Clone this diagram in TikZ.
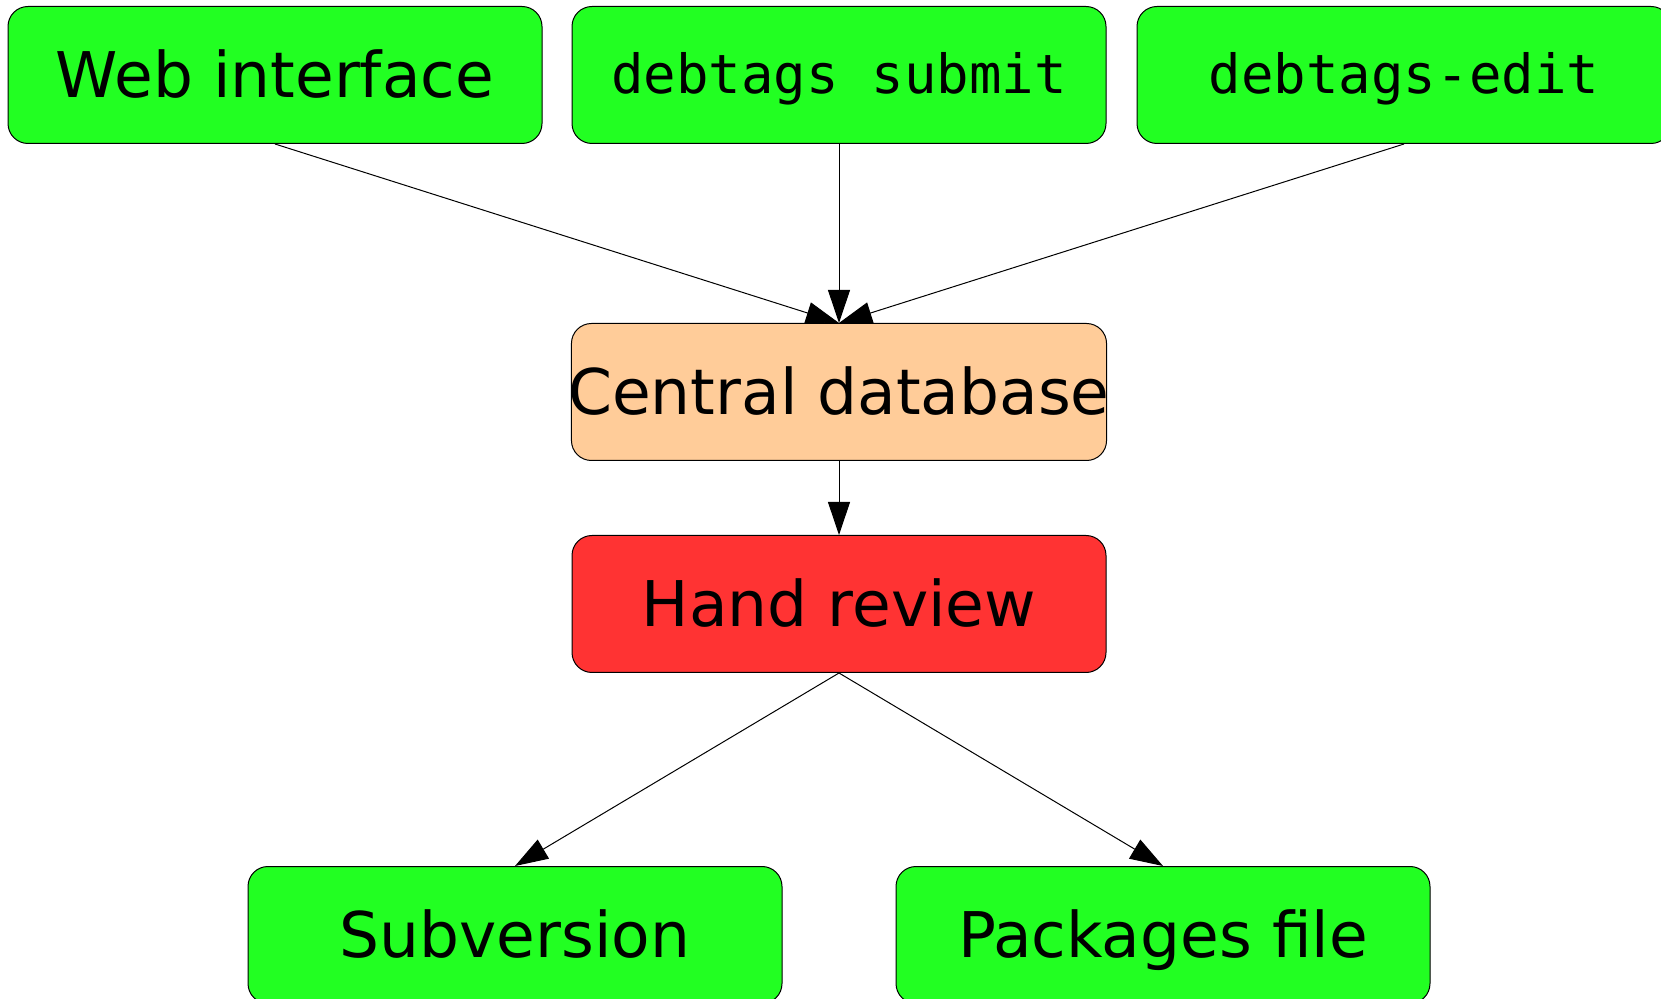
\documentclass[tikz,border=0pt]{standalone}
\usepackage{fontspec}
\setmainfont{DejaVu Sans}
\setmonofont{DejaVu Sans Mono}
\usetikzlibrary{positioning,arrows.meta}
\definecolor{srcgreen}{RGB}{34,255,34}
\definecolor{dbpeach}{RGB}{255,204,153}
\definecolor{revred}{RGB}{255,51,51}
\tikzset{
  rbox/.style={draw,line width=0.5pt,rounded corners=10pt,minimum width=267pt,minimum height=68.5pt,inner sep=0pt,
    font=\fontsize{31.5}{36}\selectfont,text height=22.5pt,text depth=0pt},
  cmdbox/.style={rbox,font=\fontsize{27}{32}\ttfamily,text height=19pt}
}
\begin{document}
\begin{tikzpicture}[>={Triangle[length=16.5pt,width=11pt]},line width=0.5pt]
\useasboundingbox (0,0) rectangle (830.5pt,-499.5pt);
\node [cmdbox,fill=srcgreen] (submit) at (419.5pt,-37.5pt) {debtags submit};
\node [rbox,fill=srcgreen,left=14.5pt of submit] (web) {Web interface};
\node [cmdbox,fill=srcgreen,right=15pt of submit] (edit) {debtags-edit};
\node [rbox,fill=dbpeach,inner xsep=-1.6pt,below=89.5pt of submit] (db) {Central database};
\node [rbox,fill=revred,below=37pt of db] (review) {Hand review};
\node [rbox,fill=srcgreen,below=96.5pt of review,xshift=-162pt] (svn) {Subversion};
\node [rbox,fill=srcgreen,below=96.5pt of review,xshift=162pt] (pkgs) {Packages file};
\draw [->] (web.south) -- (db.north);
\draw [->] (submit) -- (db);
\draw [->] (edit.south) -- (db.north);
\draw [->] (db) -- (review);
\draw [->] (review.south) -- (svn.north);
\draw [->] (review.south) -- (pkgs.north);
\end{tikzpicture}
\end{document}
